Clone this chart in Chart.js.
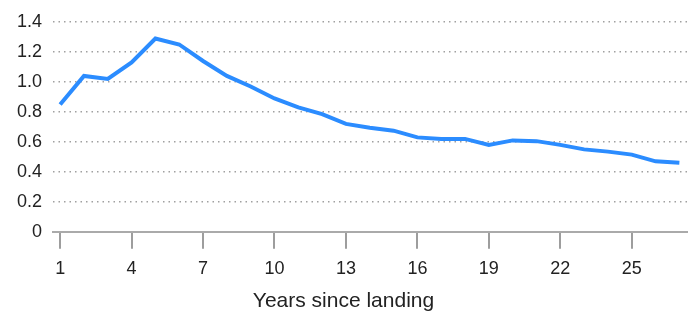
<!DOCTYPE html>
<html>
<head>
<meta charset="utf-8">
<script src="https://cdn.jsdelivr.net/npm/chart.js@4/dist/chart.umd.min.js"></script>
<style>
  html, body { margin: 0; padding: 0; background: #fff; }
  #wrap { width: 693px; height: 312px; position: relative; }
</style>
</head>
<body>
<div id="wrap"><canvas id="landingChart"></canvas></div>
<script>
// years since landing and the ratio
const years = [1, 2, 3, 4, 5, 6, 7, 8, 9, 10, 11, 12, 13, 14, 15, 16, 17, 18, 19, 20, 21, 22, 23, 24, 25, 26, 27];
const ratio = [0.85, 1.04, 1.02, 1.13, 1.29, 1.25, 1.14, 1.04, 0.97, 0.89, 0.83, 0.785, 0.72, 0.695, 0.675, 0.63, 0.62, 0.62, 0.58, 0.61, 0.605, 0.58, 0.55, 0.535, 0.515, 0.47, 0.46];
const xTickValues = [1, 4, 7, 10, 13, 16, 19, 22, 25];
const yTickValues = [0, 0.2, 0.4, 0.6, 0.8, 1.0, 1.2, 1.4];
const yTickLabels = ["0", "0.2", "0.4", "0.6", "0.8", "1.0", "1.2", "1.4"];
const xTitle = "Years since landing";

document.addEventListener("DOMContentLoaded", () => {
  const ctx = document.getElementById("landingChart").getContext("2d");
  const family = "'Liberation Sans', Arial, sans-serif";
  const tickFont = { family: family, size: 18 };

  new Chart(ctx, {
    type: "line",
    data: {
      datasets: [
        {
          data: years.map((y, i) => ({ x: y, y: ratio[i] })),
          borderColor: "#2b8cff",
          borderWidth: 4,
          pointRadius: 0,
          tension: 0,
          fill: false,
        },
      ],
    },
    options: {
      responsive: true,
      maintainAspectRatio: false,
      animation: false,
      layout: { padding: { top: 22, right: 6, left: 0, bottom: 0 } },
      plugins: {
        legend: { display: false },
        tooltip: { enabled: false },
        title: {
          display: true,
          position: "bottom",
          text: xTitle,
          color: "#222",
          font: { family: family, size: 21, weight: "normal" },
          padding: { top: 9, bottom: -2 },
        },
      },
      scales: {
        x: {
          type: "linear",
          min: 0.7,
          max: 27.32,
          afterBuildTicks: (scale) => {
            scale.ticks = xTickValues.map((v) => ({ value: v }));
          },
          afterFit: (scale) => {
            // tick marks + padding + one line of labels
            scale.height = 48;
          },
          ticks: {
            color: "#222",
            font: tickFont,
            padding: 9,
            maxRotation: 0,
            autoSkip: false,
            callback: (v) => String(v),
          },
          grid: {
            drawOnChartArea: false,
            drawTicks: true,
            tickLength: 17,
            color: "#9d9d9d",
            lineWidth: 2,
          },
          border: { display: true, color: "#aaaaaa", width: 2 },
        },
        y: {
          min: 0,
          max: 1.4,
          afterBuildTicks: (scale) => {
            scale.ticks = yTickValues.map((v) => ({ value: v }));
          },
          afterFit: (scale) => {
            scale.width = 53;
          },
          ticks: {
            color: "#222",
            font: tickFont,
            padding: 11,
            callback: (v) => yTickLabels[yTickValues.findIndex((t) => Math.abs(t - v) < 1e-6)],
          },
          grid: {
            drawTicks: false,
            color: "#a0a0a0",
            lineWidth: 1.5,
          },
          border: { display: false, dash: [1.5, 4] },
        },
      },
    },
  });
});
</script>
</body>
</html>
